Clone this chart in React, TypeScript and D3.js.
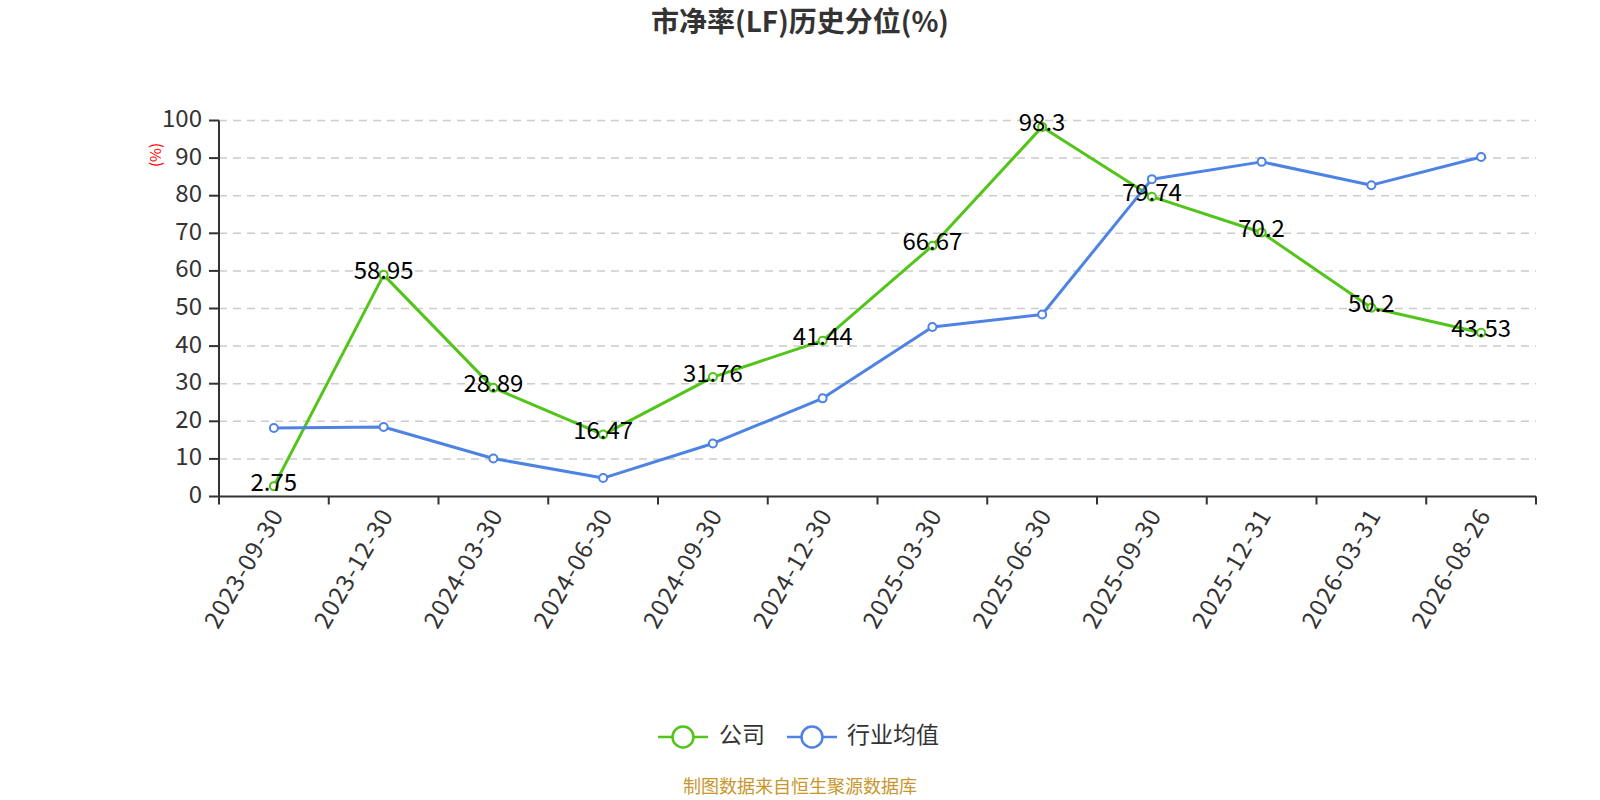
import { useEffect } from "react";
import * as d3 from "d3";

// ---- data ----
const dates = [
  "2023-09-30", "2023-12-30", "2024-03-30", "2024-06-30", "2024-09-30", "2024-12-30",
  "2025-03-30", "2025-06-30", "2025-09-30", "2025-12-31", "2026-03-31", "2026-08-26",
];
const company = [2.75, 58.95, 28.89, 16.47, 31.76, 41.44, 66.67, 98.3, 79.74, 70.2, 50.2, 43.53];
const industry = [18.2, 18.5, 10.1, 4.9, 14.1, 26.1, 45.1, 48.4, 84.4, 89.0, 82.8, 90.3];
const yTicks = [0, 10, 20, 30, 40, 50, 60, 70, 80, 90, 100];

const GREEN = "#52c41a";
const BLUE = "#4e83e3";
const FONT = "'Noto Sans CJK SC', 'Noto Sans', sans-serif";

const W = 1600;
const H = 800;
const margin = { left: 219, right: 64, top: 120.5, bottom: 303.5 };

const App = () => {
  useEffect(() => {
    document.body.style.margin = "0";
  }, []);

  const x = d3.scaleBand().domain(dates).range([margin.left, W - margin.right]);
  const y = d3.scaleLinear().domain([0, 100]).range([H - margin.bottom, margin.top]);
  const cx = (d: string) => (x(d) || 0) + x.bandwidth() / 2;

  const line = d3
    .line<number>()
    .x((_, i) => cx(dates[i]))
    .y((v) => y(v));

  const series = [
    { name: "公司", color: GREEN, values: company, labels: true },
    { name: "行业均值", color: BLUE, values: industry, labels: false },
  ];

  const y0 = y(0);
  const tickEdges = [...dates.map((d) => x(d) || 0), W - margin.right];

  return (
    <svg width={W} height={H} style={{ display: "block", fontFamily: FONT }}>
      <rect width={W} height={H} fill="#fff" />

      {/* title */}
      <text x={800} y={24} textAnchor="middle" dominantBaseline="middle" fontSize={28} fontWeight="bold" fill="#333">
        市净率(LF)历史分位(%)
      </text>

      {/* grid */}
      {yTicks.filter((t) => t > 0).map((t) => (
        <line key={t} x1={margin.left} x2={W - margin.right} y1={y(t)} y2={y(t)} stroke="#ccc" strokeWidth={1.5} strokeDasharray="8,6" />
      ))}

      {/* y axis */}
      <line x1={margin.left} x2={margin.left} y1={margin.top} y2={y0} stroke="#333" strokeWidth={2} />
      {yTicks.map((t) => (
        <g key={t}>
          <line x1={margin.left - 10} x2={margin.left} y1={y(t)} y2={y(t)} stroke="#333" strokeWidth={2} />
          <text x={margin.left - 17} y={y(t)} textAnchor="end" dominantBaseline="middle" fontSize={24} fill="#333">
            {t}
          </text>
        </g>
      ))}
      <text transform={`translate(157,155) rotate(-90)`} textAnchor="middle" dominantBaseline="middle" fontSize={15} fill="red">
        (%)
      </text>

      {/* x axis */}
      <line x1={margin.left} x2={W - margin.right} y1={y0} y2={y0} stroke="#333" strokeWidth={2} />
      {tickEdges.map((e, i) => (
        <line key={i} x1={e} x2={e} y1={y0} y2={y0 + 8} stroke="#333" strokeWidth={2} />
      ))}
      {dates.map((d) => (
        <text
          key={d}
          transform={`translate(${cx(d) + 5},${y0 + 15}) rotate(-60)`}
          textAnchor="end"
          dominantBaseline="middle"
          fontSize={24}
          letterSpacing={1}
          fill="#333"
        >
          {d}
        </text>
      ))}

      {/* lines */}
      {series.map((s) => (
        <g key={s.name}>
          <path d={line(s.values) || ""} fill="none" stroke={s.color} strokeWidth={3} strokeLinejoin="round" />
          {s.values.map((v, i) => (
            <circle key={i} cx={cx(dates[i])} cy={y(v)} r={4} fill="#fff" stroke={s.color} strokeWidth={2} />
          ))}
        </g>
      ))}
      {series
        .filter((s) => s.labels)
        .map((s) =>
          s.values.map((v, i) => (
            <text key={i} x={cx(dates[i])} y={y(v) - 2} textAnchor="middle" dominantBaseline="middle" fontSize={24} fill="#000">
              {v}
            </text>
          ))
        )}

      {/* legend */}
      {[
        { s: series[0], x0: 658, tx: 719 },
        { s: series[1], x0: 787, tx: 847 },
      ].map(({ s, x0, tx }) => (
        <g key={s.name}>
          <line x1={x0} x2={x0 + 50} y1={737} y2={737} stroke={s.color} strokeWidth={2.5} />
          <circle cx={x0 + 25} cy={737} r={10.5} fill="#fff" stroke={s.color} strokeWidth={2.5} />
          <text x={tx} y={737} dominantBaseline="middle" fontSize={23} fill="#333">
            {s.name}
          </text>
        </g>
      ))}

      {/* source */}
      <text x={800} y={788} textAnchor="middle" dominantBaseline="middle" fontSize={18} fill="#c8962c">
        制图数据来自恒生聚源数据库
      </text>
    </svg>
  );
};

export default App;
